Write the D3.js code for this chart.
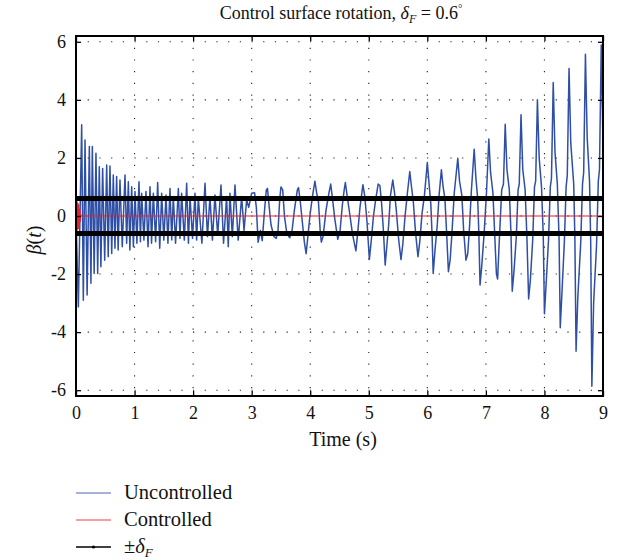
<!DOCTYPE html>
<html>
<head>
<meta charset="utf-8">
<script src="https://cdn.jsdelivr.net/npm/d3@7"></script>
<style>
  body { margin: 0; background: #fff; }
  svg text { font-family: "Liberation Serif", "DejaVu Serif", serif; fill: #111; }
</style>
</head>
<body>
<svg id="chart" width="619" height="560"></svg>
<script>
// values: [time (s), beta]
var uncontrolledEarly = [
  [0.00, 0.0], [0.04, -3.13], [0.097, 3.14], [0.125, -2.9], [0.154, 2.62], [0.19, -2.72],
  [0.228, 2.39], [0.255, -2.32], [0.279, 2.39], [0.31, -1.98], [0.341, 2.16], [0.37, -1.98],
  [0.398, 1.7], [0.425, -1.75], [0.455, 1.64], [0.49, -1.52], [0.524, 1.76], [0.55, -1.4],
  [0.58, 1.72], [0.61, -1.29], [0.637, 1.41], [0.665, -1.11], [0.694, 1.36], [0.72, -1.17],
  [0.751, 1.24], [0.79, -1.06], [0.837, 1.41], [0.865, -0.94], [0.894, 1.18], [0.92, -1.17],
  [0.951, 1.01], [0.98, -1.06], [1.008, 0.84], [1.04, -0.94], [1.076, 1.18], [1.10, -0.89],
  [1.121, 0.78], [1.16, -0.83], [1.195, 0.84], [1.23, -1.06], [1.264, 1.01], [1.29, -0.94],
  [1.321, 0.78], [1.36, -0.89], [1.395, 1.15], [1.43, -1.11], [1.463, 0.78], [1.50, -0.83],
  [1.537, 0.72], [1.57, -0.94], [1.605, 0.95], [1.635, -0.83], [1.662, 0.67], [1.70, -0.94],
  [1.748, 0.95], [1.775, -0.77], [1.804, 0.78], [1.85, -0.83], [1.890, 1.13], [1.92, -0.94],
  [1.947, 0.67], [1.99, -0.77], [2.032, 0.78], [2.06, -0.83], [2.089, 0.61], [2.15, -0.94],
  [2.203, 1.13], [2.245, -0.71], [2.288, 0.67], [2.33, -0.83], [2.373, 0.72], [2.42, -0.66],
  [2.476, 1.07], [2.52, -0.94], [2.572, 0.67], [2.60, -1.06], [2.629, 0.78], [2.67, -0.71],
  [2.715, 1.07], [2.77, -0.83], [2.829, 0.67], [2.87, -0.5], [2.914, 0.55], [2.95, 0.3],
  [2.999, 0.78]
];

var uncontrolledLate = [
  [3.05, 0.8], [3.08, 0.3], [3.11, -0.9], [3.15, -0.5], [3.18, -0.85], [3.22, 0.2],
  [3.25, 0.9], [3.27, 0.95], [3.30, 0.3], [3.33, -0.3], [3.38, -0.7], [3.42, -0.77],
  [3.45, -0.5], [3.48, 0.6], [3.50, 1.0], [3.53, 0.9], [3.56, 0.0], [3.60, -0.6],
  [3.65, -0.75], [3.69, -0.5], [3.73, 0.2], [3.78, 0.9], [3.80, 0.98], [3.83, 0.5],
  [3.87, -0.3], [3.90, -0.9], [3.93, -1.3], [3.96, -0.7], [4.00, 0.1], [4.04, 0.7],
  [4.08, 1.2], [4.11, 0.8], [4.14, 0.5], [4.17, -0.5], [4.19, -0.9], [4.22, -0.7],
  [4.27, 0.2], [4.32, 0.8], [4.35, 1.1], [4.38, 0.6], [4.42, -0.1], [4.47, -0.8],
  [4.51, -0.5], [4.55, 0.4], [4.58, 0.9], [4.60, 1.15], [4.63, 0.7], [4.68, 0.0],
  [4.72, -0.6], [4.76, -1.0], [4.78, -1.2], [4.81, -0.6], [4.85, 0.3], [4.90, 1.08],
  [4.93, 0.7], [4.97, -0.2], [5.01, -1.5], [5.04, -0.9], [5.08, 0.0], [5.12, 0.6],
  [5.16, 1.1], [5.19, 1.05], [5.22, 0.4], [5.25, -0.5], [5.28, -1.69], [5.31, -1.0],
  [5.34, -0.3], [5.37, 0.7], [5.41, 1.24], [5.44, 0.8], [5.47, 0.2], [5.51, -0.8],
  [5.55, -1.5], [5.58, -1.0], [5.62, 0.0], [5.66, 0.8], [5.70, 1.53], [5.73, 1.0],
  [5.76, 0.5], [5.80, -0.6], [5.84, -1.4], [5.87, -0.9], [5.91, 0.1], [5.95, 0.7],
  [6.00, 1.84], [6.03, 1.1], [6.06, 0.4], [6.08, -0.6], [6.10, -1.98], [6.13, -1.2],
  [6.17, -0.3], [6.20, 0.7], [6.24, 1.59], [6.27, 1.0], [6.30, 0.6], [6.33, -0.6],
  [6.36, -1.92], [6.39, -1.5], [6.42, -0.6], [6.46, 0.8], [6.52, 1.99], [6.55, 1.2],
  [6.59, 0.7], [6.62, -0.5], [6.66, -1.52], [6.69, -1.3], [6.72, -0.4], [6.75, 0.8],
  [6.80, 2.3], [6.83, 1.3], [6.86, 0.6], [6.88, -0.6], [6.90, -2.38], [6.93, -1.7],
  [6.97, -0.6], [7.01, 0.8], [7.05, 2.65], [7.08, 1.5], [7.12, 0.8], [7.15, -0.6],
  [7.18, -2.0], [7.20, -2.17], [7.23, -0.8], [7.27, 0.9], [7.30, 1.1], [7.33, 3.16], [7.36, 1.6],
  [7.40, 0.9], [7.43, -0.7], [7.45, -2.59], [7.48, -1.9], [7.52, -0.7], [7.55, 0.9], [7.57, 1.1],
  [7.60, 3.49], [7.63, 1.6], [7.67, 0.9], [7.70, -0.7], [7.73, -2.86], [7.76, -2.2],
  [7.80, -0.8], [7.83, 1.0], [7.85, 1.2], [7.88, 4.0], [7.91, 2.0], [7.95, 1.0], [7.98, -0.7],
  [8.00, -3.37], [8.03, -2.3], [8.07, -0.8], [8.10, 1.0], [8.12, 1.3], [8.15, 4.6], [8.18, 2.2],
  [8.22, 1.1], [8.25, -0.8], [8.27, -3.85], [8.30, -2.6], [8.34, -0.9], [8.37, 1.0], [8.39, 1.4],
  [8.42, 5.08], [8.45, 2.5], [8.50, 1.1], [8.52, -0.8], [8.54, -4.66], [8.57, -2.8],
  [8.62, -0.9], [8.65, 1.1], [8.67, 1.5], [8.70, 5.57], [8.73, 2.7], [8.77, 1.2], [8.79, -0.9],
  [8.81, -5.86], [8.84, -3.0], [8.89, -1.0], [8.92, 1.2], [8.94, 1.6], [8.97, 5.89], [9.00, 2.5]
];

var controlled = [
  [0.000, 3.5], [0.004, -1.45], [0.010, 0.5], [0.016, -0.5], [0.022, 0.5], [0.028, -0.5],
  [0.034, 0.45], [0.040, -0.45], [0.048, 0.4], [0.056, -0.35], [0.064, 0.25], [0.072, -0.2],
  [0.080, 0.05], [0.090, 0.0], [9.0, 0.0]
];

var deltaF = 0.6;
var xTicks = [0, 1, 2, 3, 4, 5, 6, 7, 8, 9];
var yTicks = [-6, -4, -2, 0, 2, 4, 6];
var legendLabels = ["Uncontrolled", "Controlled", "\u00B1\u03B4F"];

var blue = "#2f4fa6", red = "#e8202a";

var svg = d3.select("#chart");
var x = d3.scaleLinear().domain([0, 9]).range([76, 603]);
var y = d3.scaleLinear().domain([-6.2, 6.2]).range([396, 36]);

svg.append("clipPath").attr("id", "plotClip")
  .append("rect").attr("x", 76).attr("y", 36).attr("width", 527).attr("height", 360);

//*** dotted grid
var grid = svg.append("g").attr("stroke", "#222").attr("stroke-width", 1.1)
  .attr("stroke-dasharray", "1.2,10.5");
grid.selectAll(".gx").data(xTicks.slice(1, -1)).enter().append("line")
  .attr("x1", function(d) { return x(d); }).attr("x2", function(d) { return x(d); })
  .attr("y1", 36).attr("y2", 396);
grid.selectAll(".gy").data(yTicks).enter().append("line")
  .attr("y1", function(d) { return y(d); }).attr("y2", function(d) { return y(d); })
  .attr("x1", 76).attr("x2", 603);

//*** series
var line = d3.line().x(function(d) { return x(d[0]); }).y(function(d) { return y(d[1]); });
var plot = svg.append("g").attr("clip-path", "url(#plotClip)");

plot.append("path").datum(uncontrolledEarly.concat(uncontrolledLate))
  .attr("d", line).attr("fill", "none").attr("stroke", blue).attr("stroke-width", 1.5)
  .attr("stroke-linejoin", "round");

plot.selectAll(".bound").data([deltaF, -deltaF]).enter().append("line")
  .attr("x1", x(0)).attr("x2", x(9))
  .attr("y1", function(d) { return y(d); }).attr("y2", function(d) { return y(d); })
  .attr("stroke", "#000").attr("stroke-width", 5);

plot.append("path").datum(controlled)
  .attr("d", line).attr("fill", "none").attr("stroke", red).attr("stroke-width", 1.2);

//*** axes (box with inward ticks)
var xAxis = d3.axisBottom(x).tickValues(xTicks).tickSize(-5).tickPadding(10).tickFormat(d3.format("d"));
var yAxis = d3.axisLeft(y).tickValues(yTicks).tickSize(-5).tickPadding(10)
  .tickFormat(function(d) { return d < 0 ? "-" + Math.abs(d) : d; });

var gx = svg.append("g").attr("transform", "translate(0,396)").call(xAxis);
var gy = svg.append("g").attr("transform", "translate(76,0)").call(yAxis);
svg.append("g").attr("transform", "translate(0,36)")
  .call(d3.axisTop(x).tickValues(xTicks).tickSize(-5).tickFormat(""));
svg.append("g").attr("transform", "translate(603,0)")
  .call(d3.axisRight(y).tickValues(yTicks).tickSize(-5).tickFormat(""));

svg.selectAll(".domain").remove();
svg.selectAll(".tick line").attr("stroke", "#000").attr("stroke-width", 1.3);
gx.selectAll("text").style("font-size", "18px").style("font-family", "Liberation Serif").attr("fill", "#111");
gy.selectAll("text").style("font-size", "18px").style("font-family", "Liberation Serif").attr("fill", "#111");

svg.append("rect").attr("x", 76).attr("y", 36).attr("width", 527).attr("height", 360)
  .attr("fill", "none").attr("stroke", "#000").attr("stroke-width", 2);

//*** title and labels
var title = svg.append("text").attr("x", 341).attr("y", 19).attr("text-anchor", "middle")
  .style("font-size", "18px");
title.append("tspan").text("Control surface rotation, ");
title.append("tspan").style("font-style", "italic").text("\u03B4");
title.append("tspan").style("font-style", "italic").style("font-size", "12px").attr("dy", 4).text("F");
title.append("tspan").attr("dy", -4).text(" = 0.6");
title.append("tspan").style("font-size", "11px").attr("dy", -7).text("\u00B0");

svg.append("text").attr("x", 343).attr("y", 446).attr("text-anchor", "middle")
  .style("font-size", "20px").text("Time (s)");

var yl = svg.append("text").attr("transform", "translate(41,240) rotate(-90)")
  .attr("text-anchor", "middle").style("font-size", "20px");
yl.append("tspan").style("font-style", "italic").text("\u03B2");
yl.append("tspan").text("(");
yl.append("tspan").style("font-style", "italic").text("t");
yl.append("tspan").text(")");

//*** legend
var legendColors = [blue, red, "#000"];
var leg = svg.append("g");
var rows = leg.selectAll("g").data(legendLabels).enter().append("g")
  .attr("transform", function(d, i) { return "translate(76," + (493 + i * 27) + ")"; });
rows.append("line").attr("x1", 0).attr("x2", 35).attr("y1", 0).attr("y2", 0)
  .attr("stroke", function(d, i) { return legendColors[i]; })
  .attr("stroke-width", function(d, i) { return i === 2 ? 1.3 : 1.2; })
  .attr("opacity", function(d, i) { return i === 2 ? 1 : 0.85; });
rows.filter(function(d, i) { return i === 2; }).append("circle")
  .attr("cx", 17.5).attr("cy", 0).attr("r", 1.6).attr("fill", "#000");
rows.filter(function(d, i) { return i < 2; }).append("text")
  .attr("x", 48).attr("y", 6).style("font-size", "20.5px").text(function(d) { return d; });
var pm = rows.filter(function(d, i) { return i === 2; }).append("text")
  .attr("x", 48).attr("y", 6).style("font-size", "20.5px");
pm.append("tspan").text("\u00B1");
pm.append("tspan").style("font-style", "italic").text("\u03B4");
pm.append("tspan").style("font-style", "italic").style("font-size", "13px").attr("dy", 4).text("F");
</script>
</body>
</html>
